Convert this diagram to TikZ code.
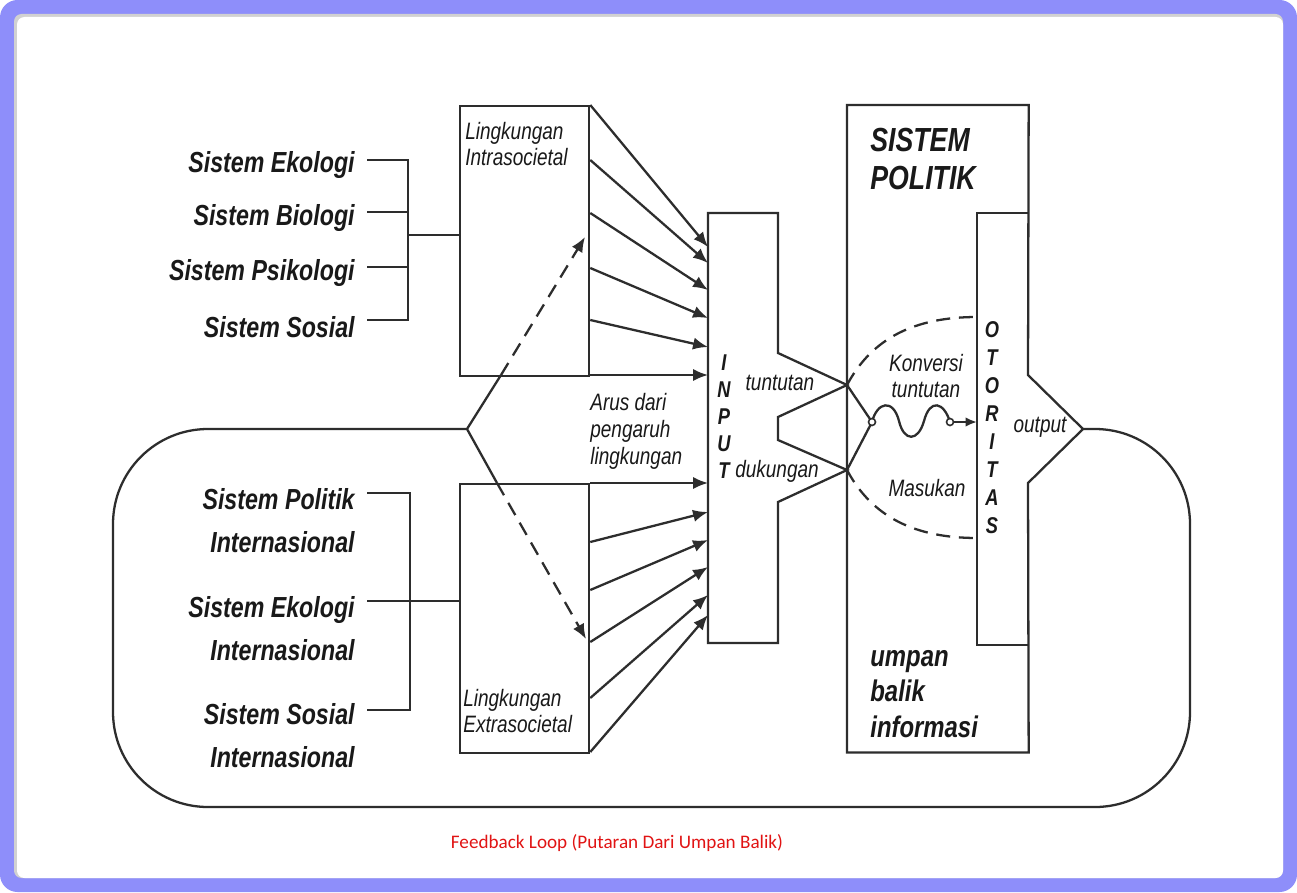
\documentclass[tikz,border=0pt]{standalone}
\usepackage{fontspec}
\setmainfont[FakeStretch=0.8]{Liberation Sans}
\newfontfamily\capfont{Carlito}
\usepackage{tikz}
\usetikzlibrary{arrows.meta,positioning,calc}
\definecolor{framebl}{RGB}{142,142,250}
\definecolor{capred}{RGB}{225,20,20}
\definecolor{inkgray}{RGB}{45,45,45}
\definecolor{txtgray}{RGB}{25,25,25}

\begin{document}
\begin{tikzpicture}[
  x=0.02cm, y=-0.02cm,
  ln/.style={line width=1.3pt, draw=inkgray},
  arr/.style={ln, -{Latex[length=8.5pt,width=7pt]}},
  dsh/.style={ln, dash pattern=on 8pt off 5pt},
  lbl/.style={inner sep=0pt, text=txtgray, align=right,
              font=\fontsize{16.5}{24.4}\selectfont\bfseries\itshape},
  sml/.style={inner sep=0pt, text=txtgray, align=left,
              font=\fontsize{13.5}{15.3}\selectfont\itshape},
  big/.style={inner sep=0pt, text=txtgray, align=left,
              font=\fontsize{19}{21.5}\selectfont\bfseries\itshape},
  chr/.style={inner sep=0pt, text=txtgray,
              font=\fontsize{13}{13}\selectfont\bfseries\itshape},
  box/.style={ln, rectangle, inner sep=0pt, minimum width=2.58cm, anchor=north west}
]
\useasboundingbox (0,0) rectangle (1297,892);

% ===== Frame =====
\fill[framebl, rounded corners=0.35cm] (0,0) rectangle (1297,892);
\fill[black!18, rounded corners=0.15cm] (14,14) rectangle (1283,878);
\fill[white, rounded corners=0.15cm] (17,17) rectangle (1283,878);

% ===== Lingkungan Intrasocietal =====
\node[box, minimum height=5.4cm] (intra) at (459,105) {};
\node[sml, anchor=west] (intraT) at (465,144) {Lingkungan\\Intrasocietal};
\node[lbl, anchor=east] (ekol) at (355,165) {Sistem Ekologi};
\node[lbl, anchor=east] (biol) at (355,218) {Sistem Biologi};
\node[lbl, anchor=east] (psik) at (355,273) {Sistem Psikologi};
\node[lbl, anchor=east] (sos)  at (355,327) {Sistem Sosial};
\coordinate (brA) at (408,235);
\draw[ln] ($(ekol.east)+(12,-5)$) -| (brA) |- ($(sos.east)+(12,-7)$);
\draw[ln] ($(biol.east)+(12,-6)$) -- ($(brA |- biol.east)+(0,-6)$);
\draw[ln] ($(psik.east)+(12,-6)$) -- ($(brA |- psik.east)+(0,-6)$);
\draw[ln] (brA) -- (brA -| intra.west);

% ===== Lingkungan Extrasocietal =====
\node[box, minimum height=5.38cm] (extra) at (459,483) {};
\node[sml, anchor=west] (extraT) at (463,711) {Lingkungan\\Extrasocietal};
\node[lbl, anchor=east] (ipol) at (355,521) {Sistem Politik\\Internasional};
\node[lbl, anchor=east] (ieko) at (355,629) {Sistem Ekologi\\Internasional};
\node[lbl, anchor=east] (isos) at (355,736) {Sistem Sosial\\Internasional};
\coordinate (brB1) at (367,493);
\coordinate (brB2) at (367,601);
\coordinate (brB3) at (367,710);
\coordinate (brB) at (410,601);
\draw[ln] (brB1) -| (brB) |- (brB3);
\draw[ln] (brB2) -- (brB) -- (brB -| extra.west);

% ===== INPUT =====
\node[inner sep=0pt, minimum width=1.4cm, minimum height=8.6cm, anchor=north west] (inp) at (708,213) {};
\coordinate (tunt) at (847,385);
\coordinate (duk) at (847,470);
\draw[ln] (708,213) -- (778,213) -- (778,353) -- (tunt) -- (778,417) -- (778,440)
  -- (duk) -- (778,502) -- (778,643) -- (708,643) -- cycle;
\foreach \l [count=\i] in {I,N,P,U,T}
  \node[chr] (inp\i) at (724,336+27*\i) {\l};
\node[sml] (tuntT) at (780,383) {tuntutan};
\node[sml] (dukT) at (777,471) {dukungan};

% ===== Arrows to INPUT =====
\foreach \s/\t in {0/34,55/50,108/77,163/105,215/134,270/162}
  \draw[arr] ($(intra.north east)+(0,\s)$) -- ($(inp.north west)+(0,\t)$);
\foreach \s/\t in {0/270,59/299,107/327,159/354,215/382,269/402}
  \draw[arr] ($(extra.north east)+(0,\s)$) -- ($(inp.north west)+(0,\t)$);
\node[sml, anchor=west] (arus) at (590,431) {Arus dari\\pengaruh\\lingkungan};

% ===== Fork =====
\coordinate (fork) at (467,429);
\coordinate (forkU) at (501,375);
\coordinate (forkD) at (497,483);
\coordinate (tipU) at (585,237);
\coordinate (tipD) at (586,639);
\draw[ln] (forkU) -- (fork) -- (forkD);
\draw[dsh, -{Latex[length=8.5pt,width=7pt]}] (forkU) -- (tipU);
\draw[dsh, -{Latex[length=8.5pt,width=7pt]}] (forkD) -- (tipD);

% ===== SISTEM POLITIK =====
\node[inner sep=0pt, minimum width=3.62cm, minimum height=12.94cm, anchor=north west] (sp) at (847,105) {};
\coordinate (outp) at (1083,429);
\draw[ln] (sp.north west) -- (sp.north east) -- (1028,375) -- (outp) -- (1028,483)
  -- (sp.south east) -- (sp.south west) -- cycle;
\draw[ln] (1028,213) -- (977,213) -- (977,645) -- (1028,645);
\node[big, anchor=west] (spT) at (870,159) {SISTEM\\POLITIK};
\node[big, anchor=west, font=\fontsize{17}{20.4}\selectfont\bfseries\itshape] (umpan) at (870,694) {umpan\\balik\\informasi};
\foreach \l [count=\i] in {O,T,O,R,I,T,A,S}
  \node[chr] (oto\i) at (992,302+28*\i) {\l};
\node[sml] (outT) at (1040,427) {output};

% ===== Konversi =====
\coordinate (c1) at (872,422);
\coordinate (c2) at (950,422);
\coordinate (otoL) at (977,422);
\node[sml, align=center] (konv) at (926,376) {Konversi\\tuntutan};
\node[sml] (masuk) at (927,488) {Masukan};
\draw[ln] (tunt) -- (c1) -- (duk);
\draw[ln] (c1) .. controls (877,402) and (893,398) .. (899,421)
  .. controls (904,442) and (918,442) .. (924,421)
  .. controls (930,398) and (944,402) .. (c2);
\draw[ln, -{Latex[length=6.5pt,width=5.5pt]}] (c2) -- (otoL);
\draw[line width=0.9pt, draw=inkgray, fill=white] (c1) circle (3.5) (c2) circle (3.5);
\draw[dsh] (tunt) .. controls (872,338) and (915,317) .. (977,317);
\draw[dsh] (duk) .. controls (872,517) and (915,538) .. (977,538);

% ===== Feedback loop =====
\draw[ln, rounded corners=1.9cm] (fork) -- (113,429) -- (113,807) -- (1190,807) -- (1190,429) -- (outp);
\node[text=capred, font=\capfont\fontsize{10.9}{12}\selectfont] (cap) at (617,843)
  {Feedback Loop (Putaran Dari Umpan Balik)};

\end{tikzpicture}
\end{document}
